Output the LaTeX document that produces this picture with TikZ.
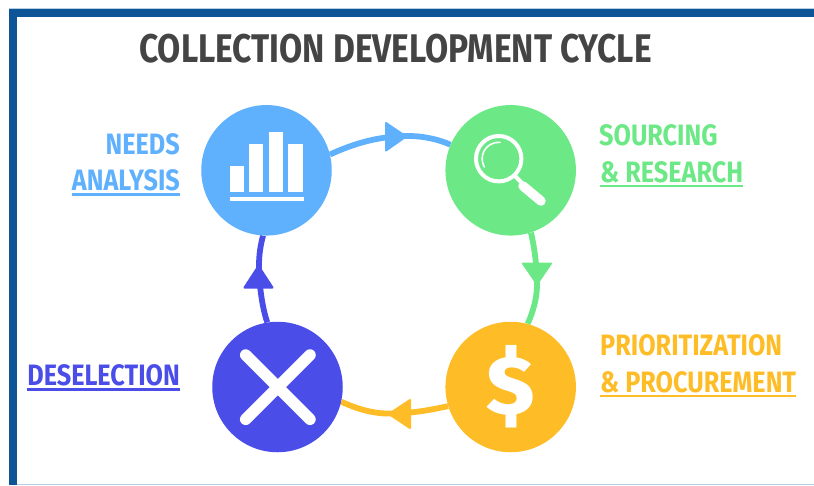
\documentclass[tikz,border=0pt]{standalone}
\usepackage{fontspec}
\usetikzlibrary{backgrounds}
\newfontfamily\labfont[FakeStretch=.855]{Fira Sans Bold}
\newfontfamily\headfont[FakeStretch=.84]{Fira Sans Bold}
\newfontfamily\dolfont[FakeStretch=1.05]{Fira Sans ExtraBold}
\definecolor{cblue}{HTML}{60B1FD}
\definecolor{cgreen}{HTML}{6CE986}
\definecolor{cpurple}{HTML}{4B4DE8}
\definecolor{corange}{HTML}{FEBC27}
\definecolor{cframe}{HTML}{0D5596}
\definecolor{cline}{HTML}{B5CFE6}
\definecolor{ctitle}{HTML}{444444}
\tikzset{
  stage/.style={circle,fill=#1,draw=none,minimum size=130.5pt,inner sep=0pt},
  link/.style={line width=5.8pt,draw=#1},
  tip/.style={fill=#1,draw=#1,line width=2pt,line join=round},
  lab/.style={text=#1,inner sep=0pt,font=\labfont\fontsize{29.5}{30}\selectfont},
  rule/.style={draw=#1,line width=2.6pt},
  icon/.style={fill=white,draw=none},
}
\begin{document}
\begin{tikzpicture}[x=1pt,y=-1pt]
\useasboundingbox (0,0) rectangle (814,485);
% frame
\fill[cline] (9,7.6) rectangle (814,9);
\fill[cline] (17,483.8) rectangle (814,485);
\fill[cframe] (9,8.6) rectangle (814,16.6);
\fill[cframe] (9,8.6) rectangle (17,485);
% title
\node[anchor=base west,inner sep=0pt,text=ctitle,font=\headfont\fontsize{40}{40}\selectfont] (title) at (139,62) {COLLECTION DEVELOPMENT CYCLE};
% stages
\node[stage=cblue] (needs) at (266.5,170.3) {};
\node[stage=cgreen] (sourcing) at (510.7,170.3) {};
\node[stage=corange] (prior) at (510.7,387) {};
\node[stage=cpurple] (desel) at (277.5,387) {};
% connectors
\begin{scope}[on background layer]
\draw[link=cblue] (needs.14) .. controls (355,143) and (380,136) .. (408,136) .. controls (425,136) and (440,140) .. (sourcing.157);
\draw[link=cgreen] (sourcing.-72) .. controls (535,250) and (537,268) .. (537,285) .. controls (537,298) and (533,312) .. (prior.75);
\draw[link=corange] (prior.197) .. controls (430,410) and (410,414) .. (386,413.5) .. controls (370,413) and (355,408) .. (desel.-13);
\draw[link=cpurple] (desel.99) .. controls (263,310) and (259,288) .. (259,265) .. controls (259,255) and (260.5,245) .. (needs.-93);
\end{scope}
% arrowheads
\path[tip=cblue] (386,123) -- (406,136.5) -- (386,150.5) -- cycle;
\path[tip=cgreen] (523,263.5) -- (551,263.5) -- (537,284) -- cycle;
\path[tip=corange] (410,400) -- (389,414) -- (410,428) -- cycle;
\path[tip=cpurple] (244.5,287.5) -- (272.5,287.5) -- (258.5,266) -- cycle;
% bars icon
\fill[icon] (230,165.7) rectangle (244,192.3);
\fill[icon] (249.3,144) rectangle (263.3,192.3);
\fill[icon] (269,132.3) rectangle (283.3,192.3);
\fill[icon] (288.3,144) rectangle (302.7,192.3);
\fill[icon] (229.7,197.3) rectangle (304,201.3);
% magnifier
\draw[white,line width=4pt] (498.7,158.7) circle (22.7);
\draw[white,line width=1.6pt,line cap=round] (484.4,167) arc[start angle=-210,end angle=-85,radius=16.5];
\draw[white,line width=4pt] (514,175) -- (522,183);
\draw[white,line width=9.5pt,line cap=round] (523,186) -- (541,201);
% cross
\draw[white,line width=11.5pt,line cap=round] (245.7,355) -- (310,419.3);
\draw[white,line width=11.5pt,line cap=round] (310,355) -- (245.7,419.3);
% dollar
\node[inner sep=0pt,text=white,font=\dolfont\fontsize{83}{83}\selectfont] (dollar) at (510.5,387) {\$};
% labels
\node[lab=cblue,anchor=base east] (n1) at (180,154) {NEEDS};
\node[lab=cblue,anchor=base east] (n2) at (180,190) {ANALYSIS};
\draw[rule=cblue] ([yshift=-4.3pt]n2.base west) -- ([yshift=-4.3pt]n2.base east);
\node[lab=cgreen,anchor=base west] (s1) at (599,145) {SOURCING};
\node[lab=cgreen,anchor=base west] (s2) at (600,182) {\& RESEARCH};
\draw[rule=cgreen] ([yshift=-3.8pt]s2.base west) -- ([yshift=-3.8pt]s2.base east);
\node[lab=corange,anchor=base west] (p1) at (600,355) {PRIORITIZATION};
\node[lab=corange,anchor=base west] (p2) at (600,392) {\& PROCUREMENT};
\draw[rule=corange] ([yshift=-4pt]p2.base west) -- ([yshift=-4pt]p2.base east);
\node[lab=cpurple,anchor=base east] (d1) at (180,385) {DESELECTION};
\draw[rule=cpurple] ([yshift=-4.5pt]d1.base west) -- ([yshift=-4.5pt]d1.base east);
\end{tikzpicture}
\end{document}
